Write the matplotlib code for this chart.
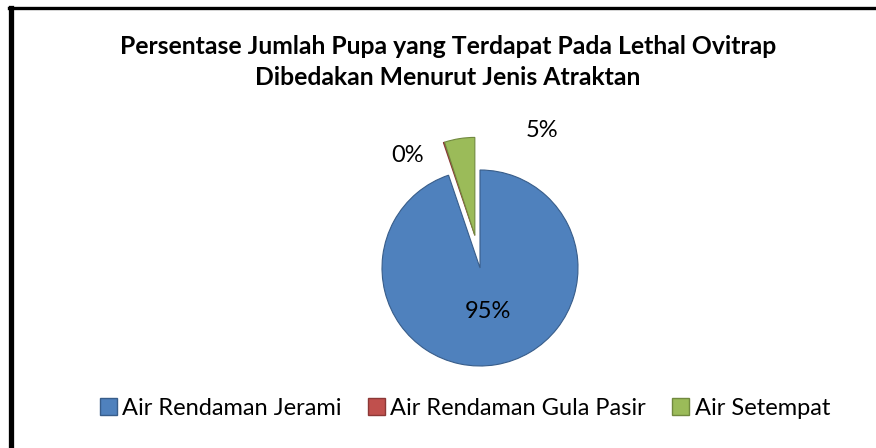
import matplotlib.pyplot as plt
from matplotlib.lines import Line2D
from matplotlib.patches import Patch

# data
categories = ['Air Rendaman Jerami', 'Air Rendaman Gula Pasir', 'Air Setempat']
values = [94.8, 0.2, 5.0]
pct_labels = ['95%', '0%', '5%']
colors = ['#4F81BD', '#C0504D', '#9BBB59']
edges = ['#385D8A', '#8C3836', '#71893F']
explode = [0, 0.33, 0.33]

plt.rcParams['font.family'] = ['Lato', 'DejaVu Sans']

fig = plt.figure(figsize=(8.76, 4.48), dpi=100)
W, H = 876, 448

# pie axes: centre (480, 268) px, radius ~98 px
cx, cy, half = 480, 268, 150
ax = fig.add_axes([(cx - half) / W, (H - cy - half) / H, 2 * half / W, 2 * half / H])
wedges, _ = ax.pie(values, colors=colors, explode=explode, startangle=90,
                   counterclock=False, radius=0.98,
                   wedgeprops=dict(linewidth=0.8))
for w, ec in zip(wedges, edges):
    w.set_edgecolor(ec)
    w.set_clip_on(False)
# the tiny red slice sits against the edge of the green one
wedges[1].set_center(wedges[2].center)

# label positions: inside the big slice, outside for the exploded ones
label_pos = [(0.08, -0.44), (-0.72, 1.13), (0.62, 1.38)]
for lab, (x, y) in zip(pct_labels, label_pos):
    ax.text(x, y, lab, ha='center', va='center', fontsize=17, color='black')

ax.set_xlim(-1.5, 1.5)
ax.set_ylim(-1.5, 1.5)
ax.set_aspect('equal')
ax.axis('off')

fig.text(448 / W, 1 - 62 / H,
         'Persentase Jumlah Pupa yang Terdapat Pada Lethal Ovitrap\nDibedakan Menurut Jenis Atraktan',
         ha='center', va='center', fontsize=17.8, fontweight='bold', linespacing=1.4)

handles = [Patch(facecolor=c, edgecolor=e, label=l) for c, e, l in zip(colors, edges, categories)]
fig.legend(handles=handles, loc='center', bbox_to_anchor=(465 / W, 1 - 408 / H), ncol=3,
           frameon=False, fontsize=17, handlelength=0.7, handleheight=0.7,
           handletextpad=0.25, columnspacing=1.1)

# chart frame (left and top edges visible)
fig.add_artist(Line2D([10.5 / W, 10.5 / W], [0, 1 - 8 / H], color='black', lw=3.8,
                      transform=fig.transFigure))
fig.add_artist(Line2D([8.5 / W, 1], [1 - 8 / H, 1 - 8 / H], color='black', lw=2.4,
                      transform=fig.transFigure))

fig.savefig('out.png', dpi=100)
